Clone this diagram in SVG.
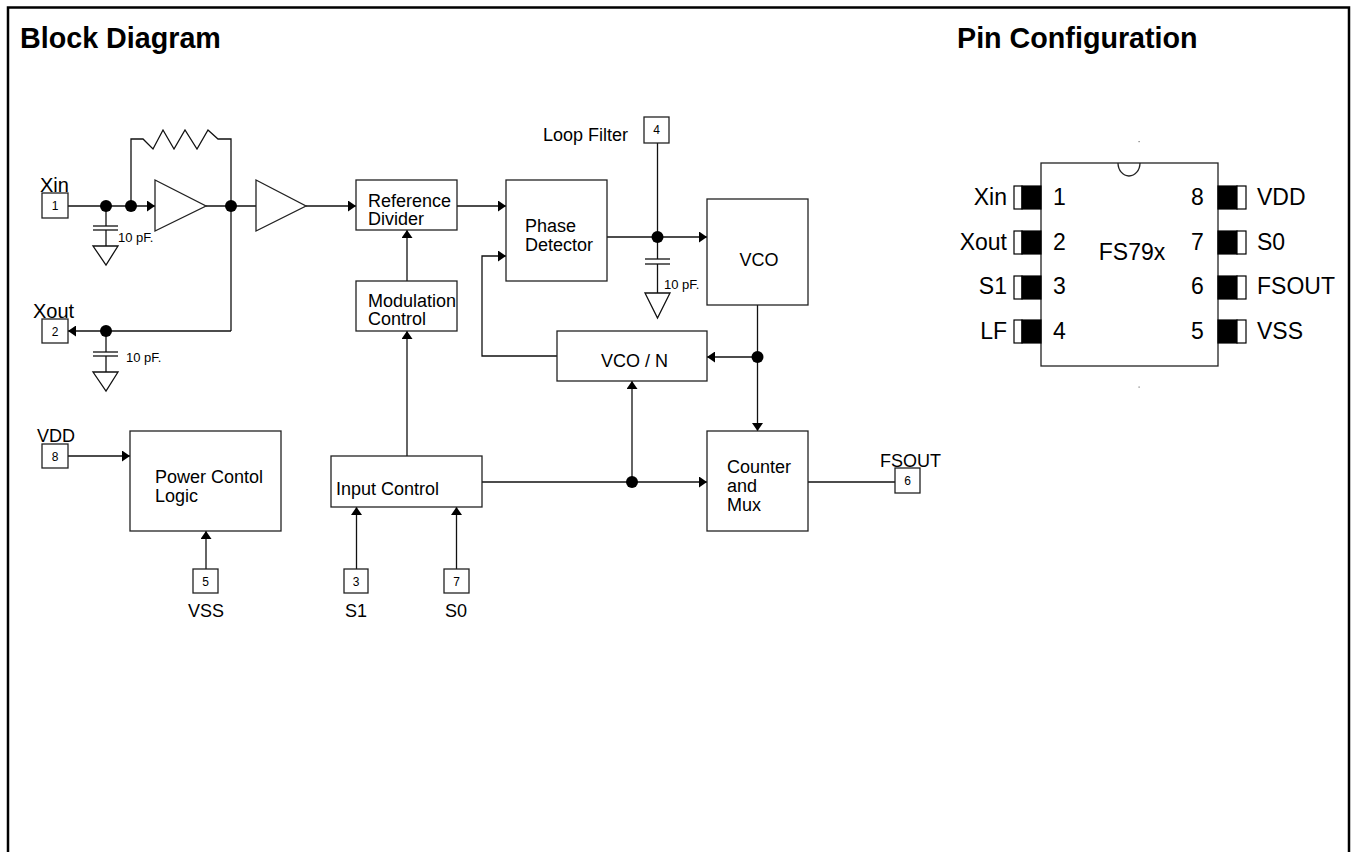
<svg xmlns="http://www.w3.org/2000/svg" width="1353" height="852" viewBox="0 0 1353 852">
<defs>
<marker id="ah" markerUnits="userSpaceOnUse" markerWidth="8" markerHeight="11" refX="8" refY="5.5" orient="auto">
<path d="M0,0 L8,5.5 L0,11 z" fill="#000"/>
</marker>
<style>
.t{font-family:"Liberation Sans",Arial,sans-serif;fill:#000}
.h{font-size:28.7px;font-weight:bold}
.b{font-size:18px}
.s{font-size:12px}
.c{font-size:13px}
.p{font-size:23px}
.m{text-anchor:middle}
.e{text-anchor:end}
.box{fill:#fff;stroke:#222;stroke-width:1.3}
.w{fill:none;stroke:#111;stroke-width:1.3}
.ar{marker-end:url(#ah)}
.dot{fill:#000}
</style>
</defs>
<rect width="1353" height="852" fill="#fff"/>
<path d="M8,852 V7.5 H1349 V852" fill="none" stroke="#000" stroke-width="2.5"/>
<text class="t h" x="20" y="48">Block Diagram</text>
<text class="t h" x="957" y="48">Pin Configuration</text>

<g id="connectors">
<line class="w ar" x1="68" y1="206" x2="155" y2="206"/>
<polyline class="w" points="131,206 131,139 143,139 153,149 163,130 174,149 185,130 197,149 208,130 218,139 231,139 231,331"/>
<line class="w" x1="206" y1="206" x2="256" y2="206"/>
<line class="w ar" x1="306" y1="206" x2="356" y2="206"/>
<line class="w" x1="106" y1="206" x2="106" y2="226"/>
<line class="w" x1="93" y1="226" x2="118" y2="226"/>
<line class="w" x1="93" y1="230" x2="118" y2="230"/>
<line class="w" x1="106" y1="230" x2="106" y2="246"/>
<polygon class="w" points="93,246 118,246 106,265"/>
<line class="w ar" x1="231" y1="331" x2="68" y2="331"/>
<line class="w" x1="106" y1="331" x2="106" y2="352"/>
<line class="w" x1="93" y1="352" x2="118" y2="352"/>
<line class="w" x1="93" y1="356" x2="118" y2="356"/>
<line class="w" x1="106" y1="356" x2="106" y2="372"/>
<polygon class="w" points="93,372 118,372 106,391"/>
<line class="w ar" x1="457" y1="206" x2="506" y2="206"/>
<polyline class="w ar" points="557,356 482,356 482,256 506,256"/>
<line class="w ar" x1="607" y1="237" x2="707" y2="237"/>
<line class="w" x1="657.5" y1="143" x2="657.5" y2="237"/>
<line class="w" x1="657.5" y1="237" x2="657.5" y2="259"/>
<line class="w" x1="645" y1="259" x2="670" y2="259"/>
<line class="w" x1="645" y1="264" x2="670" y2="264"/>
<line class="w" x1="657.5" y1="264" x2="657.5" y2="293"/>
<polygon class="w" points="645,293 670,293 657.5,318"/>
<line class="w ar" x1="757.5" y1="305" x2="757.5" y2="431"/>
<line class="w ar" x1="757.5" y1="357" x2="707" y2="357"/>
<line class="w ar" x1="407" y1="281" x2="407" y2="230"/>
<line class="w ar" x1="407" y1="456" x2="407" y2="331"/>
<line class="w ar" x1="482" y1="482" x2="707" y2="482"/>
<line class="w ar" x1="632" y1="482" x2="632" y2="381"/>
<line class="w" x1="808" y1="482" x2="895" y2="482"/>
<line class="w ar" x1="68" y1="456" x2="130" y2="456"/>
<line class="w ar" x1="206" y1="569" x2="206" y2="531"/>
<line class="w ar" x1="356.5" y1="569" x2="356.5" y2="507"/>
<line class="w ar" x1="456.5" y1="569" x2="456.5" y2="507"/>
<circle class="dot" cx="106" cy="206" r="6"/>
<circle class="dot" cx="131" cy="206" r="6"/>
<circle class="dot" cx="231" cy="206" r="6"/>
<circle class="dot" cx="106" cy="331" r="6"/>
<circle class="dot" cx="657.5" cy="237" r="6"/>
<circle class="dot" cx="757.5" cy="357" r="6"/>
<circle class="dot" cx="632" cy="482" r="6"/>
</g>

<g id="cap-labels">
<text class="t c" x="118" y="242">10 pF.</text>
<text class="t c" x="126" y="362">10 pF.</text>
<text class="t c" x="664" y="289">10 pF.</text>
</g>

<g id="amp1"><polygon class="box" points="155,180 155,231 206,206"/></g>
<g id="amp2"><polygon class="box" points="256,180 256,231 306,206"/></g>

<g id="pin1"><rect class="box" x="42" y="193" width="26" height="25"/><text class="t s m" x="55" y="210">1</text><text class="t" style="font-size:20px" x="40" y="192">Xin</text></g>
<g id="pin2"><rect class="box" x="42" y="319" width="26" height="24"/><text class="t s m" x="55" y="336">2</text><text class="t" style="font-size:20px" x="33" y="318">Xout</text></g>
<g id="pin4"><rect class="box" x="644" y="117" width="25" height="26"/><text class="t s m" x="656.5" y="134">4</text><text class="t b" x="543" y="141">Loop Filter</text></g>
<g id="pin6"><rect class="box" x="895" y="468" width="25" height="25"/><text class="t s m" x="907.5" y="485">6</text><text class="t b" x="880" y="467">FSOUT</text></g>
<g id="pin8"><rect class="box" x="42" y="444" width="26" height="24"/><text class="t s m" x="55" y="461">8</text><text class="t b" x="37" y="442">VDD</text></g>
<g id="pin5"><rect class="box" x="193" y="569" width="25" height="24"/><text class="t s m" x="205.5" y="586">5</text><text class="t b m" x="206" y="617">VSS</text></g>
<g id="pin3"><rect class="box" x="344" y="569" width="24" height="24"/><text class="t s m" x="356" y="586">3</text><text class="t b m" x="356" y="617">S1</text></g>
<g id="pin7"><rect class="box" x="444" y="569" width="25" height="24"/><text class="t s m" x="456.5" y="586">7</text><text class="t b m" x="456" y="617">S0</text></g>

<g id="refdiv"><rect class="box" x="356" y="180" width="101" height="50"/><text class="t b" x="368" y="207">Reference</text><text class="t b" x="368" y="225">Divider</text></g>
<g id="phasedet"><rect class="box" x="506" y="180" width="101" height="101"/><text class="t b" x="525" y="232">Phase</text><text class="t b" x="525" y="251">Detector</text></g>
<g id="vco"><rect class="box" x="707" y="199" width="101" height="106"/><text class="t b m" x="759" y="266">VCO</text></g>
<g id="vcon"><rect class="box" x="557" y="331" width="150" height="50"/><text class="t b m" x="634.5" y="367">VCO / N</text></g>
<g id="modctrl"><rect class="box" x="356" y="281" width="101" height="50"/><text class="t b" x="368" y="307">Modulation</text><text class="t b" x="368" y="325">Control</text></g>
<g id="inputctrl"><rect class="box" x="331" y="456" width="151" height="51"/><text class="t b" x="336" y="495">Input Control</text></g>
<g id="counter"><rect class="box" x="707" y="431" width="101" height="100"/><text class="t b" x="727" y="473">Counter</text><text class="t b" x="727" y="492">and</text><text class="t b" x="727" y="511">Mux</text></g>
<g id="power"><rect class="box" x="130" y="431" width="151" height="100"/><text class="t b" x="155" y="483">Power Contol</text><text class="t b" x="155" y="502">Logic</text></g>

<g id="chip">
<rect class="box" x="1041" y="163" width="177" height="203"/>
<path d="M1118,163 A11,13 0 0 0 1140,163" fill="none" stroke="#222" stroke-width="1.3"/>
<rect x="1138.5" y="141" width="1.2" height="1.2" fill="#777"/>
<rect x="1138.5" y="386.5" width="1.2" height="1.2" fill="#777"/>
<g id="lpins" stroke="#000" stroke-width="1.2">
<rect x="1014" y="186" width="8" height="23" fill="#fff"/><rect x="1022" y="186" width="19" height="23" fill="#000"/>
<rect x="1014" y="231" width="8" height="23" fill="#fff"/><rect x="1022" y="231" width="19" height="23" fill="#000"/>
<rect x="1014" y="276" width="8" height="23" fill="#fff"/><rect x="1022" y="276" width="19" height="23" fill="#000"/>
<rect x="1014" y="320" width="8" height="23" fill="#fff"/><rect x="1022" y="320" width="19" height="23" fill="#000"/>
</g>
<g id="rpins" stroke="#000" stroke-width="1.2">
<rect x="1218" y="186" width="19" height="23" fill="#000"/><rect x="1237" y="186" width="9" height="23" fill="#fff"/>
<rect x="1218" y="231" width="19" height="23" fill="#000"/><rect x="1237" y="231" width="9" height="23" fill="#fff"/>
<rect x="1218" y="276" width="19" height="23" fill="#000"/><rect x="1237" y="276" width="9" height="23" fill="#fff"/>
<rect x="1218" y="320" width="19" height="23" fill="#000"/><rect x="1237" y="320" width="9" height="23" fill="#fff"/>
</g>
<text class="t p e" x="1007" y="205">Xin</text>
<text class="t p e" x="1007" y="250">Xout</text>
<text class="t p e" x="1007" y="294">S1</text>
<text class="t p e" x="1007" y="339">LF</text>
<text class="t p" x="1053" y="205">1</text>
<text class="t p" x="1053" y="250">2</text>
<text class="t p" x="1053" y="294">3</text>
<text class="t p" x="1053" y="339">4</text>
<text class="t p" x="1191" y="205">8</text>
<text class="t p" x="1191" y="250">7</text>
<text class="t p" x="1191" y="294">6</text>
<text class="t p" x="1191" y="339">5</text>
<text class="t p" x="1257" y="205">VDD</text>
<text class="t p" x="1257" y="250">S0</text>
<text class="t p" x="1257" y="294">FSOUT</text>
<text class="t p" x="1257" y="339">VSS</text>
<text class="t p m" x="1132" y="260">FS79x</text>
</g>
</svg>
